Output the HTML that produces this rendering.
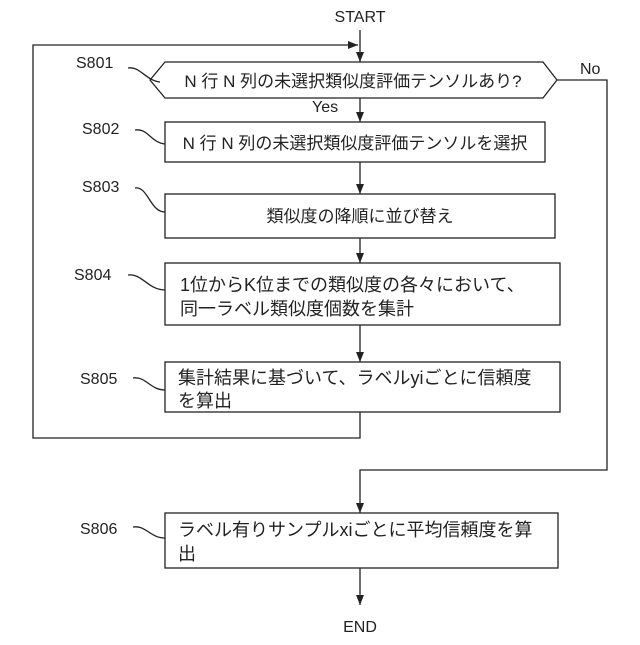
<!DOCTYPE html>
<html><head><meta charset="utf-8"><style>
body{margin:0;background:#fff}
svg text{font-family:"Liberation Sans","Noto Sans CJK JP",sans-serif;fill:#222}
</style></head><body>
<svg width="640" height="640" viewBox="0 0 640 640" xmlns="http://www.w3.org/2000/svg">
<defs><marker id="a" markerWidth="10" markerHeight="8" refX="10" refY="4" orient="auto" markerUnits="userSpaceOnUse"><path d="M0,0 L10,4 L0,8 Z" fill="#222"/></marker></defs>
<g stroke="#222" stroke-width="1.3" fill="none">
<line x1="360" y1="30" x2="360" y2="62" marker-end="url(#a)"/>
<polyline points="360,412 360,438 33,438 33,45 358,45" marker-end="url(#a)"/>
<polygon points="150,80 165,62 543,62 557,80 543,98 165,98"/>
<polyline points="557,80 607,80 607,470 360,470 360,513" marker-end="url(#a)"/>
<line x1="360" y1="98" x2="360" y2="122" marker-end="url(#a)"/>
<rect x="165" y="122" width="380" height="40"/>
<line x1="360" y1="162" x2="360" y2="194" marker-end="url(#a)"/>
<rect x="165" y="194" width="390" height="44"/>
<line x1="360" y1="238" x2="360" y2="263" marker-end="url(#a)"/>
<rect x="165" y="263" width="395" height="62"/>
<line x1="360" y1="325" x2="360" y2="362" marker-end="url(#a)"/>
<rect x="165" y="362" width="395" height="50"/>
<rect x="165" y="513" width="393" height="55"/>
<line x1="360" y1="568" x2="360" y2="605" marker-end="url(#a)"/>
<path d="M128,68 C140,66 145,80 160,82"/>
<path d="M135,130 C148,128 150,142 165,144"/>
<path d="M135,188 C148,186 150,212 165,212"/>
<path d="M128,275 C142,273 148,290 165,290"/>
<path d="M133,378 C146,376 150,390 165,390"/>
<path d="M133,527 C146,525 150,538 165,538"/>
</g>
<g font-size="16">
<text x="360" y="22" text-anchor="middle">START</text>
<text x="360" y="632" text-anchor="middle">END</text>
<text x="580" y="74">No</text>
<text x="312" y="112">Yes</text>
<text x="76" y="68">S801</text>
<text x="82" y="134">S802</text>
<text x="82" y="192">S803</text>
<text x="74" y="280">S804</text>
<text x="80" y="384">S805</text>
<text x="80" y="534">S806</text>
<text x="353" y="87" text-anchor="middle" font-size="17">N 行 N 列の未選択類似度評価テンソルあり?</text>
<text x="355" y="149" text-anchor="middle" font-size="17">N 行 N 列の未選択類似度評価テンソルを選択</text>
<text x="360" y="222" text-anchor="middle" font-size="17">類似度の降順に並び替え</text>
<text x="180" y="291" font-size="18">1位からK位までの類似度の各々において、</text>
<text x="180" y="315" font-size="18">同一ラベル類似度個数を集計</text>
<text x="178" y="384" font-size="18">集計結果に基づいて、ラベルyiごとに信頼度</text>
<text x="178" y="407" font-size="18">を算出</text>
<text x="178" y="536" font-size="18">ラベル有りサンプルxiごとに平均信頼度を算</text>
<text x="178" y="560" font-size="18">出</text>
</g>
</svg>
</body></html>
